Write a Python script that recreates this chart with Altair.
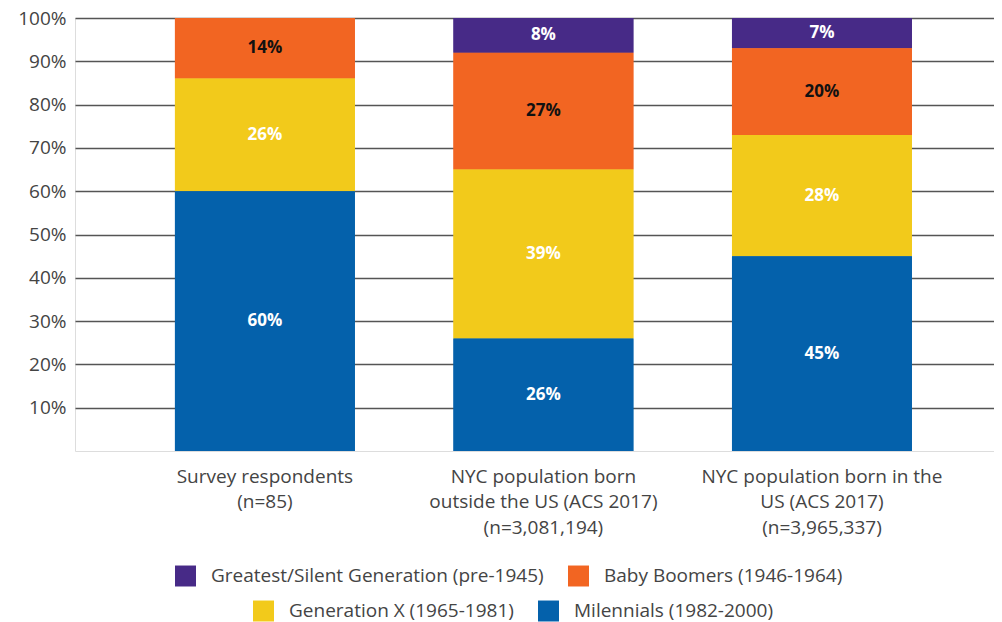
import altair as alt
import pandas as pd

groups = [
    "Survey respondents|(n=85)",
    "NYC population born|outside the US (ACS 2017)|(n=3,081,194)",
    "NYC population born in the|US (ACS 2017)|(n=3,965,337)",
]
generations = [
    "Greatest/Silent Generation (pre-1945)",
    "Baby Boomers (1946-1964)",
    "Generation X (1965-1981)",
    "Milennials (1982-2000)",
]
colors = ["#472A87", "#F26522", "#F2CA1B", "#0461AB"]
greatest = [0, 8, 7]
boomers = [14, 27, 20]
genx = [26, 39, 28]
millennials = [60, 26, 45]
stack_order = [3, 2, 1, 0]  # Millennials at the bottom

series = [greatest, boomers, genx, millennials]
rows = []
for gen, vals, order in zip(generations, series, stack_order):
    for grp, v in zip(groups, vals):
        if v > 0:
            rows.append({"group": grp, "generation": gen, "share": v / 100, "order": order,
                         "label": f"{v}%"})
df = pd.DataFrame(rows)

FONT = "Open Sans"
TXT = "#444444"
FS = 19

base = alt.Chart(df).transform_stack(
    stack="share", as_=["y0", "y1"], groupby=["group"],
    sort=[alt.SortField("order", order="ascending")],
).transform_calculate(ymid="(datum.y0 + datum.y1) / 2")

x_enc = alt.X(
    "group:N", sort=groups, title=None,
    scale=alt.Scale(paddingInner=0.354, paddingOuter=0.3268, align=0.549),
    axis=alt.Axis(labelAngle=0, labelExpr="split(datum.label, '|')", labelFontSize=FS,
                  labelLineHeight=25.5, labelPadding=16, labelColor=TXT, domain=False,
                  ticks=False, labelFont=FONT, labelLimit=0),
)
y_enc = alt.Y(
    "y0:Q", title=None,
    scale=alt.Scale(domain=[0, 1], nice=False),
    axis=alt.Axis(values=[0.1, 0.2, 0.3, 0.4, 0.5, 0.6, 0.7, 0.8, 0.9, 1.0], format=".0%",
                  grid=True, gridColor="#555555", gridWidth=1.5, domain=False, ticks=False,
                  labelFontSize=FS, labelColor=TXT, labelPadding=9, labelFont=FONT,
                  labelLimit=0),
)

def legend(vals, lx, ly):
    return alt.Legend(
        title=None, values=vals, orient="none", legendX=lx, legendY=ly,
        direction="horizontal", symbolType="M-1,-1H1V1H-1Z", symbolSize=440,
        symbolStrokeWidth=0, labelFontSize=FS, labelColor=TXT, labelFont=FONT,
        labelOffset=15, columnPadding=24, symbolOpacity=1, labelLimit=0,
    )

bars1 = base.mark_bar().encode(
    x=x_enc, y=y_enc, y2="y1:Q",
    color=alt.Color("generation:N", scale=alt.Scale(domain=generations, range=colors),
                    legend=legend(generations[:2], 100, 547.5)),
)
bars2 = base.mark_bar().encode(
    x=alt.X("group:N", sort=groups), y="y0:Q", y2="y1:Q",
    color=alt.Color("generation:N", scale=alt.Scale(domain=generations, range=colors),
                    legend=legend(generations[2:], 178, 582.5)),
)
labels = base.mark_text(fontSize=17, fontWeight="bold", font=FONT).encode(
    x=alt.X("group:N", sort=groups),
    y="ymid:Q",
    text="label:N",
    color=alt.condition(alt.datum.generation == generations[1], alt.value("#111111"),
                        alt.value("white")),
)

chart = alt.layer(bars1, bars2, labels).resolve_scale(color="independent").properties(
    width=919, height=433,
    autosize=alt.AutoSizeParams(type="none"),
    padding={"left": 67, "top": 10, "right": 0, "bottom": 174},
).configure_view(stroke=None).configure(font=FONT)

chart.save("out.html", embed_options={"renderer": "svg", "actions": False})
